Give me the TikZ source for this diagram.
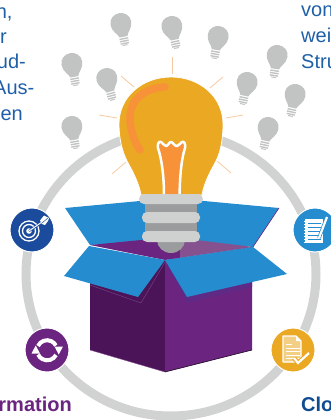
\documentclass[tikz,border=0pt]{standalone}
\usepackage{fontspec}
\setmainfont{Liberation Sans}
\definecolor{ringc}{HTML}{D1D3D2}
\definecolor{flapblue}{HTML}{258DCF}
\definecolor{bulbor}{HTML}{EAA823}
\definecolor{hilite}{HTML}{F79239}
\definecolor{collar}{HTML}{CFD1D0}
\definecolor{capdark}{HTML}{9A9C9E}
\definecolor{smallb}{HTML}{C2C3C3}
\definecolor{raycol}{HTML}{F7C9A0}
\definecolor{boxdark}{HTML}{4B1358}
\definecolor{boxmid}{HTML}{6B2480}
\definecolor{boxlight}{HTML}{85518F}
\definecolor{boxshade}{HTML}{5F2A85}
\definecolor{targetb}{HTML}{1A4B9C}
\definecolor{textblue}{HTML}{1F5FA8}
\definecolor{headblue}{HTML}{0F4C92}
\tikzset{
  x=1pt,y=-1pt,
  ray/.style={draw=raycol,line width=0.8pt},
  badge/.style={draw=white,line width=1pt},
  bodytext/.style={font=\fontsize{20}{24}\selectfont,text=textblue,inner sep=0pt},
  headtext/.style={font=\fontsize{20}{24}\selectfont\bfseries,inner sep=0pt},
  collarbar/.style={fill=collar,rounded corners=5pt},
  smallbulb/.pic={
    \fill[smallb] (-4,13) .. controls (-5,9) and (-10.5,6) .. (-10.5,-1)
      .. controls (-10.5,-7) and (-5.5,-11) .. (0,-11)
      .. controls (5.5,-11) and (10.5,-7) .. (10.5,-1)
      .. controls (10.5,6) and (5,9) .. (4,13) -- cycle;
    \fill[smallb] (-4.4,14.2) rectangle (4.4,15.6);
    \fill[smallb] (-4.4,16.6) rectangle (4.4,18);
    \fill[smallb] (-4.2,19) rectangle (4.2,20.4);
    \fill[smallb] (-2.5,21) rectangle (2.5,22);
  }
}
\begin{document}
\begin{tikzpicture}
\useasboundingbox (0,0) rectangle (331,420);
\clip (0,0) rectangle (331,420);
% ring
\draw[ringc,line width=9pt] (171,274) ellipse [x radius=145pt,y radius=142pt];
% texts
\node[bodytext,anchor=base east] (t1) at (12.7,19) {n,};
\node[bodytext,anchor=base east] (t2) at (7,44) {r};
\node[bodytext,anchor=base east] (t3) at (26,69) {ud-};
\node[bodytext,anchor=base east] (t4) at (34.5,94) {Aus-};
\node[bodytext,anchor=base east] (t5) at (23,120) {en};
\node[bodytext,anchor=base west] (t6) at (301,17) {von};
\node[bodytext,anchor=base west] (t7) at (301,43) {wei};
\node[bodytext,anchor=base west] (t8) at (301,68) {Stru};
\node[headtext,anchor=base east,text=boxmid] (h1) at (72,411) {rmation};
\node[headtext,anchor=base west,text=headblue] (h2) at (301,411) {Clo};
% small bulbs
\pic[rotate=11] at (121,24) {smallbulb};
\pic[rotate=10] at (72,64) {smallbulb};
\pic[rotate=15] at (107,79) {smallbulb};
\pic[rotate=10] at (72,127) {smallbulb};
\pic[rotate=12] at (172,27) {smallbulb};
\pic[rotate=-10] at (218,37) {smallbulb};
\pic[rotate=-9] at (277,56) {smallbulb};
\pic[rotate=-12] at (247,83) {smallbulb};
\pic[rotate=-12] at (295,95) {smallbulb};
\pic[rotate=-12] at (268,128) {smallbulb};
% rays
\draw[ray] (121,76) -- (134,87);
\draw[ray] (99,115) -- (117,118);
\draw[ray] (112,174) -- (126,162);
\draw[ray] (172,57) -- (172,74);
\draw[ray] (210,88) -- (223,77);
\draw[ray] (226,118) -- (243,115);
\draw[ray] (217,161) -- (231,173);
% back flaps
\fill[flapblue] (65,208) -- (172,198) -- (279,208) -- (253,247) -- (172,240) -- (90,245) -- cycle;
\draw[boxmid,line width=0.6pt] (279,208) -- (253,247);
% box sides
\fill[boxdark] (90,262) -- (165,260) -- (165,372) -- (90,350) -- cycle;
\fill[boxmid] (165,260) -- (252,247) -- (252,350) -- (165,372) -- cycle;
\draw[boxlight,line width=0.4pt] (90,350) -- (165,372);
\draw[black!60!boxdark,line width=0.6pt] (165,372) -- (252,350);
\draw[boxlight,line width=0.3pt] (90,285) -- (141,303) -- (165,262);
\fill[boxshade] (165,262) -- (187,303) -- (252,287) -- (252,270) -- cycle;
% interior
\fill[boxmid] (90,245) -- (172,237) -- (180,238) -- (180,258) -- (165,260) -- cycle;
\fill[boxlight] (180,238) -- (253,247) -- (165,260) -- (180,258) -- cycle;
% big bulb
\path[fill=bulbor,draw=white,line width=0.8pt] (141,195)
  .. controls (139,183) and (133,172) .. (127,161)
  .. controls (122,151) and (119,138) .. (119,124)
  .. controls (119,97) and (142,77) .. (171,77)
  .. controls (200,77) and (223,97) .. (223,124)
  .. controls (223,138) and (221,151) .. (216,161)
  .. controls (210,172) and (204,183) .. (202,195) -- cycle;
\draw[hilite,line width=7.5pt,line cap=round] (165,87)
  .. controls (144,88) and (130,100) .. (130,118)
  .. controls (130,130) and (134,141) .. (140,150);
\path[fill=hilite,draw=white,line width=2.5pt,line join=round] (164,195)
  .. controls (164,178) and (162,160) .. (158,148)
  .. controls (157,144) and (159,141) .. (161,142)
  .. controls (163,143) and (164,146) .. (166,146)
  .. controls (168,146) and (169,142) .. (171,142)
  .. controls (173,142) and (174,146) .. (177,146)
  .. controls (179,146) and (180,143) .. (182,142)
  .. controls (184,141) and (186,144) .. (185,148)
  .. controls (181,160) and (180,178) .. (179.5,195);
% cap
\fill[capdark] (157,240) -- (185,240) arc [start angle=0,end angle=-180,x radius=14pt,y radius=13pt] -- cycle;
\fill[capdark] (145,202) rectangle (197,233);
\fill[collarbar] (139,194) rectangle (203,204);
\fill[collarbar] (142,212) rectangle (200,223);
\fill[collarbar] (142,231) rectangle (200,242);
% front flaps
\fill[flapblue] (89,246) -- (165,260) -- (138,297) -- (64,276) -- cycle;
\fill[flapblue] (253,247) -- (287,274) -- (187,297) -- (165,260) -- cycle;
% target badge
\filldraw[badge,fill=targetb] (32,230) circle [radius=22pt];
\draw[white,line width=1.3pt] (29,231) circle [radius=10pt];
\draw[white,line width=1.3pt] (29,231) circle [radius=6.5pt];
\fill[white] (29,231) circle [radius=2.8pt];
\draw[targetb,line width=2.2pt] (29,231) -- (41,223);
\draw[white,line width=1pt] (29,231) -- (42,222);
\fill[white] (40,220.5) -- (44,215.5) -- (49,218) -- (48,221) -- (45,225) -- (42,224) -- cycle;
\draw[targetb,line width=0.5pt] (42,223) -- (48,218);
% notes badge
\filldraw[badge,fill=flapblue] (315,230) circle [radius=22pt];
\fill[white] (305,219) rectangle (323,243);
\foreach \yy in {223,227,231,235,239} {\draw[flapblue,line width=0.9pt] (308,\yy) -- (321,\yy);}
\foreach \yy in {221,224,227,230,233,236,239,242} {\draw[white,line width=1pt] (303.5,\yy) -- (306,\yy);}
\draw[flapblue,line width=3.6pt] (327,217) -- (319,238);
\draw[white,line width=2.2pt] (327,217) -- (319,238);
% doc badge
\filldraw[badge,fill=bulbor] (293,350) circle [radius=22pt];
\path[fill=white!45!bulbor,draw=white,line width=1.2pt,line join=round] (283,336) -- (296,336) -- (301,341) -- (301,362) -- (283,362) -- cycle;
\fill[white] (296,336) -- (296,341) -- (301,341) -- cycle;
\foreach \yy in {348,351.5,355,358.5} {\draw[white,line width=1pt] (286,\yy) -- (300,\yy);}
\draw[white,line width=1pt] (286,344.5) -- (292,344.5);
\draw[bulbor,line width=4.5pt] (294,358) -- (298,363) -- (309,353);
\draw[white,line width=2.2pt] (294,358) -- (298,363) -- (309,353);
% refresh badge
\filldraw[badge,fill=boxmid] (47,350) circle [radius=22pt];
\draw[white,line width=4pt] (38,346) arc [start angle=155,end angle=28,radius=10pt];
\draw[white,line width=4pt] (56,355) arc [start angle=-28,end angle=-155,radius=10pt];
\fill[white] (54.5,346.5) -- (63,346.5) -- (58.7,354.5) -- cycle;
\fill[white] (31.5,353.5) -- (40,353.5) -- (35.7,345.5) -- cycle;
\end{tikzpicture}
\end{document}
